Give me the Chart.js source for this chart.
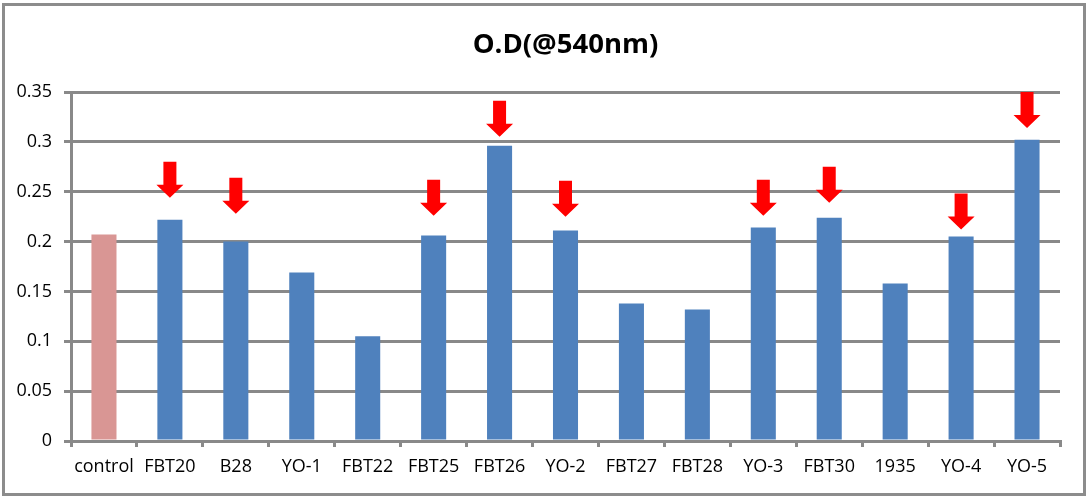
<!DOCTYPE html>
<html lang="en">
<head>
  <meta charset="UTF-8">
  <title>O.D(@540nm)</title>
  <script src="https://cdn.jsdelivr.net/npm/chart.js"></script>
  <style>
    html, body { margin: 0; padding: 0; background: #fff; }
    #wrap { width: 1088px; height: 499px; }
  </style>
</head>
<body>
  <div id="wrap"><canvas id="odChart" width="1088" height="499"></canvas></div>

  <script>
    // samples
    const labels = ['control', 'FBT20', 'B28', 'YO-1', 'FBT22', 'FBT25', 'FBT26', 'YO-2',
                    'FBT27', 'FBT28', 'YO-3', 'FBT30', '1935', 'YO-4', 'YO-5'];
    // absorbance values
    const odValues = [0.207, 0.222, 0.200, 0.169, 0.105, 0.206, 0.296, 0.211,
                      0.138, 0.132, 0.214, 0.224, 0.158, 0.205, 0.302];
    // where the red arrows point (value at arrow tip), null = no arrow
    const arrowTips = [null, 0.244, 0.228, null, null, 0.226, 0.305, 0.225,
                       null, null, 0.226, 0.239, null, 0.212, 0.314];
    const yTicks = [0, 0.05, 0.1, 0.15, 0.2, 0.25, 0.3, 0.35];

    const barColors = labels.map((l, i) => i === 0 ? '#D99694' : '#4F81BD');
    const gridGrey = '#898989';

    // рамка вокруг всего графика
    const frame = {
      id: 'frame',
      beforeDraw(chart) {
        const c = chart.ctx;
        c.save();
        c.fillStyle = '#fff';
        c.fillRect(0, 0, chart.width, chart.height);
        c.strokeStyle = '#8c8c8c';
        c.lineWidth = 3;
        c.strokeRect(3.5, 4.5, chart.width - 7, chart.height - 9);
        c.restore();
      }
    };

    // красные стрелки над столбиками
    const arrows = {
      id: 'arrows',
      afterDatasetsDraw(chart) {
        const c = chart.ctx;
        const y = chart.scales.y;
        const bars = chart.getDatasetMeta(0).data;
        c.save();
        c.fillStyle = '#FF0000';
        arrowTips.forEach((v, i) => {
          if (v === null) return;
          const x = bars[i].x;
          const tip = y.getPixelForValue(v);
          const h = 36, headH = 13, headW = 27, shaftW = 13;
          c.beginPath();
          c.moveTo(x - shaftW / 2, tip - h);
          c.lineTo(x + shaftW / 2, tip - h);
          c.lineTo(x + shaftW / 2, tip - headH);
          c.lineTo(x + headW / 2, tip - headH);
          c.lineTo(x, tip);
          c.lineTo(x - headW / 2, tip - headH);
          c.lineTo(x - shaftW / 2, tip - headH);
          c.closePath();
          c.fill();
        });
        c.restore();
      }
    };

    new Chart(document.getElementById('odChart'), {
      type: 'bar',
      data: {
        labels: labels,
        datasets: [{
          data: odValues,
          backgroundColor: barColors,
          borderWidth: 0,
          barPercentage: 0.38,
          categoryPercentage: 1
        }]
      },
      options: {
        responsive: false,
        animation: false,
        layout: { padding: { top: 3, right: 28, bottom: 8, left: 0 } },
        plugins: {
          legend: { display: false },
          tooltip: { enabled: false },
          title: {
            display: true,
            fullSize: false,
            text: 'O.D(@540nm)',
            color: '#000',
            font: { family: 'Open Sans', size: 27.5, weight: 'bold' },
            padding: { top: 26, bottom: 30 }
          }
        },
        scales: {
          x: {
            grid: { drawOnChartArea: false, drawTicks: true, tickLength: 6, color: gridGrey, lineWidth: 3 },
            border: { display: true, color: gridGrey, width: 3 },
            ticks: { color: '#000', font: { family: 'Open Sans', size: 18 }, padding: 9, maxRotation: 0, autoSkip: false },
            afterFit(s) { s.height = 50; }
          },
          y: {
            min: 0,
            max: 0.35,
            afterBuildTicks(s) { s.ticks = yTicks.map(v => ({ value: v })); },
            grid: { color: gridGrey, lineWidth: 3, drawTicks: true, tickLength: 7 },
            border: { display: true, color: gridGrey, width: 3 },
            ticks: {
              color: '#000',
              font: { family: 'Open Sans', size: 18 },
              padding: 12,
              callback: v => String(v)
            },
            afterFit(s) { s.width = 71; }
          }
        }
      },
      plugins: [frame, arrows]
    });
  </script>
</body>
</html>
